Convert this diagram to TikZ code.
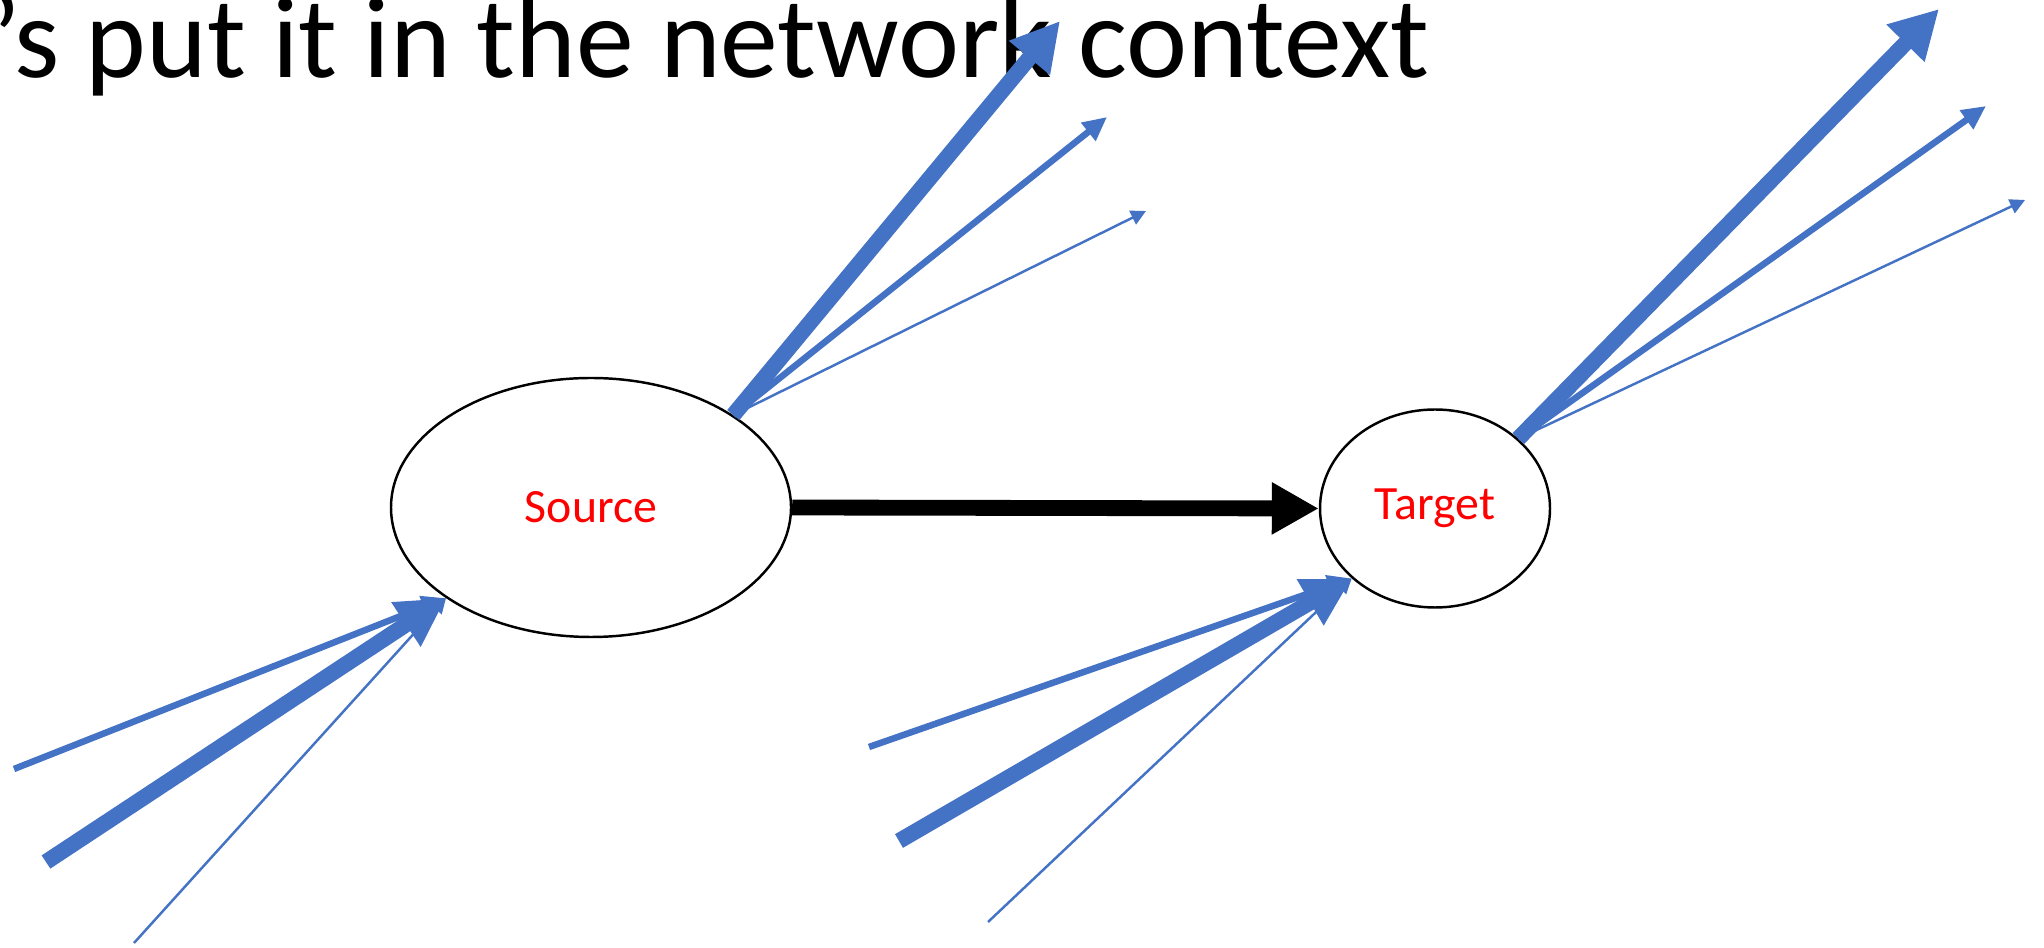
\documentclass[tikz,border=0pt]{standalone}
\usepackage{fontspec}
\setmainfont{Carlito}
\usepackage{tikz}
\usetikzlibrary{shapes.geometric, positioning, arrows.meta}
\definecolor{flowblue}{HTML}{4472C4}
\tikzset{
  nodeoval/.style={ellipse, draw=black, line width=0.7pt, inner sep=0pt, text=red, font=\fontsize{13.6}{16}\selectfont},
  flowthick/.style={draw=flowblue, line width=4.5pt, -{Triangle[length=0.48cm, width=0.50cm]}},
  flowmid/.style={draw=flowblue, line width=1.85pt, -{Triangle[length=0.24cm, width=0.22cm]}},
  flowthin/.style={draw=flowblue, line width=0.7pt, -{Triangle[length=0.15cm, width=0.15cm]}},
  mainarrow/.style={draw=black, line width=4.5pt, -{Triangle[length=0.47cm, width=0.49cm]}}
}

\begin{document}
\begin{tikzpicture}[>=latex]

    \clip (0,0) rectangle (20.44,-9.48);

    % 1. Titulo (cortado por el borde)
    \node[anchor=base east, inner sep=0pt, font=\fontsize{32.9}{40}\selectfont] (title) at (14.30,-0.78) {’s put it in the network context};

    % 2. Nodos
    \node[nodeoval, minimum width=4.0cm, minimum height=2.59cm] (src) at (5.91,-5.075) {Source};
    \node[nodeoval, minimum width=2.30cm, minimum height=1.98cm] (tgt) at (14.35,-5.085) {Target};

    % 3. Flujo principal
    \draw[mainarrow] (src.east) -- (tgt.west);

    % -------------------------------------------------------------
    % FLUJOS DE LA RED
    % -------------------------------------------------------------

    % Salidas de Source
    \coordinate (srcOutA) at (10.60,-0.21);
    \coordinate (srcOutB) at (11.07,-1.17);
    \coordinate (srcOutC) at (11.46,-2.11);
    \draw[flowthick] (src.33) -- (srcOutA);
    \draw[flowmid]   (src.33) -- (srcOutB);
    \draw[flowthin]  (src.33) -- (srcOutC);

    % Entradas de Source
    \coordinate (srcInA) at (0.14,-7.69);
    \coordinate (srcInB) at (0.46,-8.62);
    \coordinate (srcInC) at (1.34,-9.43);
    \draw[flowmid]   (srcInA) -- (src.212);
    \draw[flowthick] (srcInB) -- (src.212);
    \draw[flowthin]  (srcInC) -- (src.212);

    % Salidas de Target
    \coordinate (tgtOutA) at (19.39,-0.09);
    \coordinate (tgtOutB) at (19.86,-1.06);
    \coordinate (tgtOutC) at (20.25,-2.00);
    \draw[flowthick] (tgt.40) -- (tgtOutA);
    \draw[flowmid]   (tgt.40) -- (tgtOutB);
    \draw[flowthin]  (tgt.40) -- (tgtOutC);

    % Entradas de Target
    \coordinate (tgtInA) at (8.69,-7.47);
    \coordinate (tgtInB) at (8.99,-8.41);
    \coordinate (tgtInC) at (9.88,-9.22);
    \draw[flowmid]   (tgtInA) -- (tgt.220);
    \draw[flowthick] (tgtInB) -- (tgt.220);
    \draw[flowthin]  (tgtInC) -- (tgt.220);

\end{tikzpicture}
\end{document}
